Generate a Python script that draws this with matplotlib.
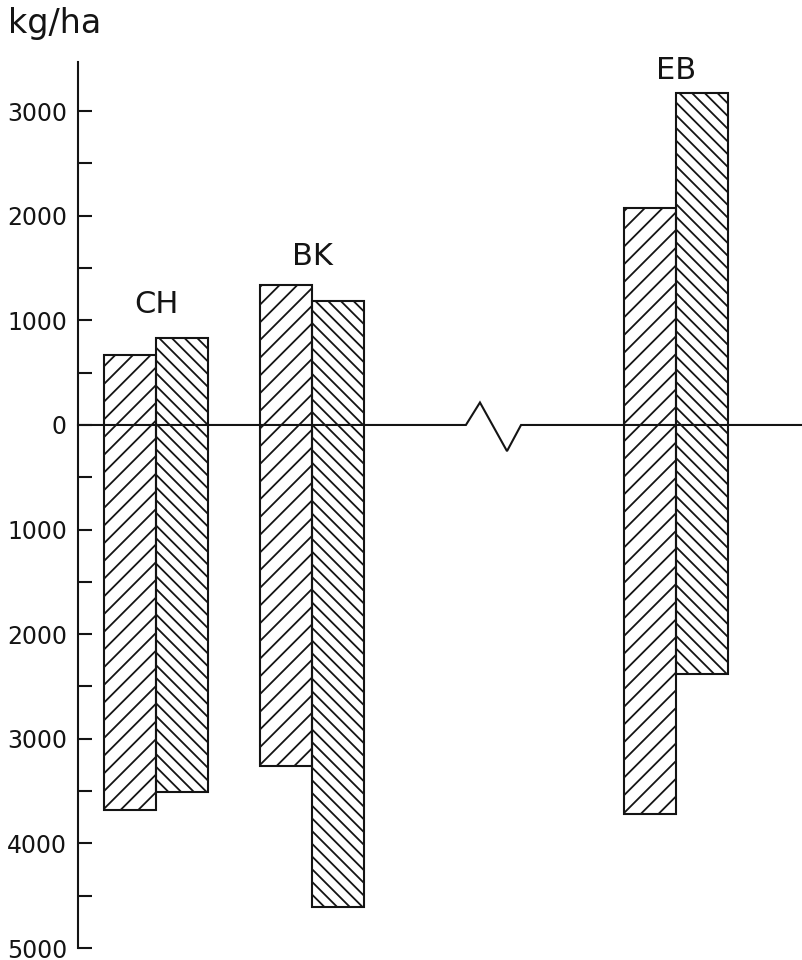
import matplotlib.pyplot as plt
import numpy as np
from matplotlib.collections import LineCollection
from matplotlib.transforms import IdentityTransform

# sites and bar ends (kg/ha); each bar spans from a negative to a positive value
sites = ['CH', 'BK', 'EB']
site_pos = [1.5, 4.5, 11.5]
first_top = [670, 1340, 2075]
first_bottom = [-3680, -3260, -3720]
second_top = [835, 1185, 3175]
second_bottom = [-3510, -4610, -2380]

y_ticks = [3000, 2000, 1000, 0, -1000, -2000, -3000, -4000, -5000]
y_tick_labels = ['3000', '2000', '1000', '0', '1000', '2000', '3000', '4000', '5000']
y_minor = [2500, 1500, 500, -500, -1500, -2500, -3500, -4500]

BREAK_X = 8.0
LW = 1.5
INK = '#141414'

fig = plt.figure(figsize=(8.02, 9.6), dpi=100)
ax = fig.add_axes([78 / 802, 12 / 960, 1 - 78 / 802, (948 - 62) / 960])
ax.set_xlim(0, (802 - 78) / 52)
ax.set_ylim(-5000, 3470)


def hatch(bar, spacing, slope):
    """Draw hatch lines over a bar, in pixel space, clipped to the bar."""
    x0, y0, x1, y1 = bar.get_window_extent().extents
    w = x1 - x0
    segs = []
    start = y0 - abs(slope) * w - spacing
    for c in np.arange(start, y1 + abs(slope) * w + spacing, spacing):
        if slope > 0:
            segs.append([(x0, c), (x1, c + slope * w)])
        else:
            segs.append([(x0, c + abs(slope) * w), (x1, c)])
    lc = LineCollection(segs, colors=INK, linewidths=1.3,
                        transform=IdentityTransform(), zorder=2)
    ax.add_collection(lc, autolim=False)
    lc.set_clip_path(bar)


for i, pos in enumerate(site_pos):
    b1 = ax.bar(pos - 0.5, first_top[i] - first_bottom[i], bottom=first_bottom[i],
                width=1, facecolor='none', edgecolor=INK, linewidth=LW, zorder=3)[0]
    b2 = ax.bar(pos + 0.5, second_top[i] - second_bottom[i], bottom=second_bottom[i],
                width=1, facecolor='none', edgecolor=INK, linewidth=LW, zorder=3)[0]
    hatch(b1, 17.7, 1.0)
    hatch(b2, 12.7, -1.0)

# site labels above each pair
label_offsets = [18, 14, 10]
for name, pos, t1, t2, off in zip(sites, site_pos, first_top, second_top, label_offsets):
    ax.annotate(name, xy=(pos, max(t1, t2)), xytext=(0, off), textcoords='offset points',
                ha='center', va='baseline', fontsize=22, color=INK)

# zero line with a break mark
xmax = ax.get_xlim()[1]
ax.plot([0, BREAK_X - 0.54, BREAK_X - 0.27, BREAK_X + 0.25, BREAK_X + 0.52, xmax],
        [0, 0, 215, -250, 0, 0], color=INK, lw=LW, zorder=4, clip_on=False,
        solid_joinstyle='miter')

for s in ['top', 'right', 'bottom']:
    ax.spines[s].set_visible(False)
ax.spines['left'].set_linewidth(LW)
ax.spines['left'].set_color(INK)
ax.set_xticks([])
ax.set_yticks(y_ticks)
ax.set_yticklabels(y_tick_labels)
ax.set_yticks(y_minor, minor=True)
ax.tick_params(axis='y', which='both', direction='in', length=10, width=LW,
               color=INK, pad=8, labelsize=17, labelcolor=INK)
ax.patch.set_visible(False)

fig.text(8 / 802, 1 - 33 / 960, 'kg/ha', fontsize=24, va='baseline', color=INK)

fig.savefig('out.png', dpi=100)
